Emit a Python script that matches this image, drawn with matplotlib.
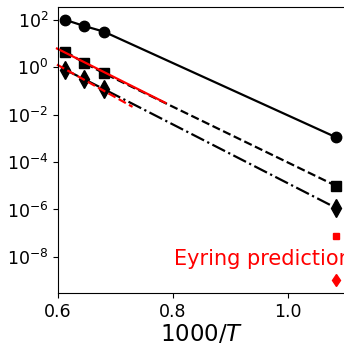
import numpy as np
import matplotlib
matplotlib.use("Agg")
from matplotlib import pyplot as plt
from matplotlib.ticker import FixedLocator, NullLocator, LogFormatterMathtext

# 1000/T values of the measurements and of the low-T point
x_high = [0.6127, 0.6447, 0.6796]
x_low = 1.084

# measured values (circles, squares, diamonds)
circ = [100, 56, 32, 1.12e-3]
sq = [4.6, 1.58, 0.56, 1.0e-5]
dia = [0.78, 0.32, 0.12, 1.17e-6]

# Eyring predictions at the low-T point
eyring_sq = 7.7e-8
eyring_dia = 1.07e-9

# Eyring fit lines (red)
fit_sq_x = [0.598, 0.787]
fit_sq_y = [6.2, 0.0315]
fit_dia_x = [0.598, 0.7297]
fit_dia_y = [1.3, 0.0214]

fig = plt.figure(figsize=(3.44, 3.43), dpi=100)
ax = fig.add_axes([0.169, 0.146, 0.834, 0.834])

xs = x_high + [x_low]
ax.plot(xs, circ, "k-", marker="o", ms=7.5, lw=1.6)
ax.plot(xs, sq, "k--", marker="s", ms=7.5, lw=1.6)
ax.plot(xs, dia, "k-.", marker="d", ms=9, lw=1.6)

ax.plot(fit_sq_x, fit_sq_y, "r-", lw=1.6, clip_on=False)
ax.plot(fit_dia_x, fit_dia_y, "r--", lw=1.6, clip_on=False)

ax.plot([x_low], [eyring_sq], "rs", ms=5)
ax.plot([x_low], [eyring_dia], "rd", ms=6)

ax.text(0.802, 8.0e-9, "Eyring prediction", color="red", fontsize=15,
        va="center", ha="left")

ax.set_yscale("log")
ax.set_xlim(0.6, 1.1)
ax.set_ylim(3.0e-10, 355)
ax.yaxis.set_major_locator(FixedLocator([1e-8, 1e-6, 1e-4, 1e-2, 1e0, 1e2]))
ax.yaxis.set_major_formatter(LogFormatterMathtext())
ax.yaxis.set_minor_locator(NullLocator())
ax.set_xticks([0.6, 0.8, 1.0])
ax.tick_params(labelsize=12.5)
ax.set_xlabel("1000/$T$", fontsize=16.5, labelpad=2)

plt.savefig("out.png", dpi=100)
